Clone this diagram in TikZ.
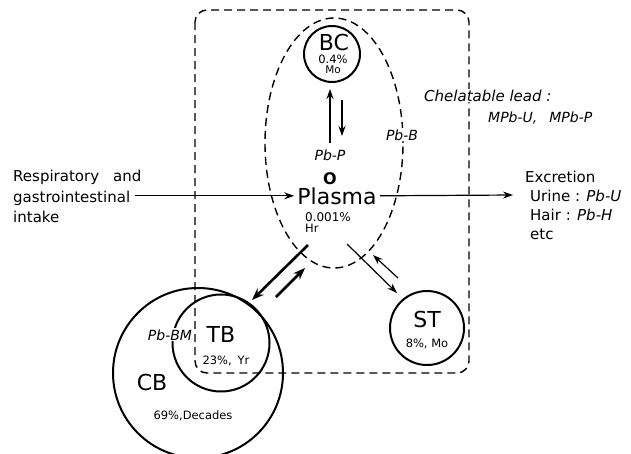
\documentclass[tikz,border=0pt]{standalone}
\usepackage{fontspec}
\setmainfont{DejaVu Sans}
\usetikzlibrary{arrows.meta,shapes.geometric}

\tikzset{
    txt/.style={inner sep=0pt, anchor=base west, font=\fontsize{15}{18}\selectfont},
    pb/.style={inner sep=0pt, anchor=base, font=\fontsize{14}{16}\selectfont\itshape},
    pool/.style={inner sep=0pt, anchor=base, font=\fontsize{22}{24}\selectfont},
    frac/.style={inner sep=0pt, anchor=base, font=\fontsize{11.5}{13}\selectfont},
    compartment/.style={circle, draw, line width=2pt, inner sep=0pt},
    grouping/.style={dash pattern=on 8pt off 5pt, line width=1.4pt},
    flow/.style={-{Stealth[length=10pt,width=7pt]}, line width=1.2pt},
    heavy/.style={-{Stealth[length=12pt,width=9pt]}, line width=2.6pt},
}

\begin{document}
\begin{tikzpicture}[x=1pt, y=-1pt]
        \useasboundingbox (0,0) rectangle (631,453);

        % compartments
        \node[compartment, minimum size=170pt] (cb) at (198,373) {};
        \node[compartment, minimum size=97pt] (tb) at (221,343) {};
        \node[compartment, minimum size=56pt] (bc) at (332,54) {};
        \node[compartment, minimum size=74pt] (st) at (427,328) {};

        \node[ellipse, draw, grouping, minimum width=138pt, minimum height=250pt] (blood) at (334,143) {};
        \draw[grouping, rounded corners=12pt] (195,10) rectangle (469,373);

        \node[pool] (bclab) at (334,50) {BC};
        \node[frac] (bcpct) at (333,63) {0.4\%};
        \node[frac, font=\fontsize{10.5}{12}\selectfont] (bcmo) at (333,73) {Mo};

        \node[pool] (stlab) at (427,327) {ST};
        \node[frac] (stpct) at (427,347) {8\%, Mo};

        \node[pool] (tblab) at (221,342) {TB};
        \node[frac] (tbpct) at (226,364) {23\%,\hspace{6pt}Yr};
        \node[pb, fill=white, inner sep=1pt] (pbbm) at (170,340) {Pb-BM};

        \node[pool] (cblab) at (152,390) {CB};
        \node[frac] (cbpct) at (193,419) {69\%,Decades};

        \node[pool] (plasma) at (337,204) {Plasma};
        \node[pb] (pbp) at (330,160) {Pb-P};
        \node[inner sep=0pt, anchor=base, font=\fontsize{16}{18}\selectfont\bfseries] (o) at (330,184) {O};
        \node[frac, font=\fontsize{12}{14}\selectfont] (plpct) at (328,221) {0.001\%};
        \node[frac, anchor=base west] (plhr) at (305,232) {Hr};

        \node[pb, fill=white, inner sep=1pt] (pbb) at (402,140) {Pb-B};

        \node[txt, font=\fontsize{15}{18}\selectfont\itshape, fill=white, inner sep=1pt] (chel) at (423,101) {Chelatable lead :};
        \node[txt, font=\fontsize{14}{16}\selectfont\itshape] (mpb) at (488,122) {MPb-U,\hspace{12pt}MPb-P};

        \node[txt] (resp) at (13,181) {Respiratory\hspace{14pt}and};
        \node[txt] (gastro) at (13,202) {gastrointestinal};
        \node[txt] (intake) at (13,222) {intake};

        \node[txt] (excr) at (525,182) {Excretion};
        \node[txt] (urine) at (530,201) {Urine : \textit{Pb-U}};
        \node[txt] (hair) at (530,220) {Hair : \textit{Pb-H}};
        \node[txt] (etc) at (530,239) {etc};

        % transfers
        \coordinate (out) at (513,195);
        \draw[flow, shorten >=3pt] ([xshift=5pt]gastro.east |- plasma.west) -- (plasma.west);
        \draw[flow] ([xshift=3pt]plasma.east) -- (out);

        \coordinate (bcup) at (330,143);
        \coordinate (bcdn) at (342,100);
        \draw[flow] (bcup) -- (330,89);
        \draw[flow] (bcdn) -- (342,136);

        \coordinate (tbout) at (308,245);
        \coordinate (tbin) at (276,297);
        \draw[heavy] (tbout) -- (252,300);
        \draw[heavy] (tbin) -- (305,268);

        \coordinate (stout) at (347,244);
        \coordinate (stin) at (398,278);
        \draw[flow] (stout) -- (397,293);
        \draw[flow] (stin) -- (373,255);
\end{tikzpicture}
\end{document}
